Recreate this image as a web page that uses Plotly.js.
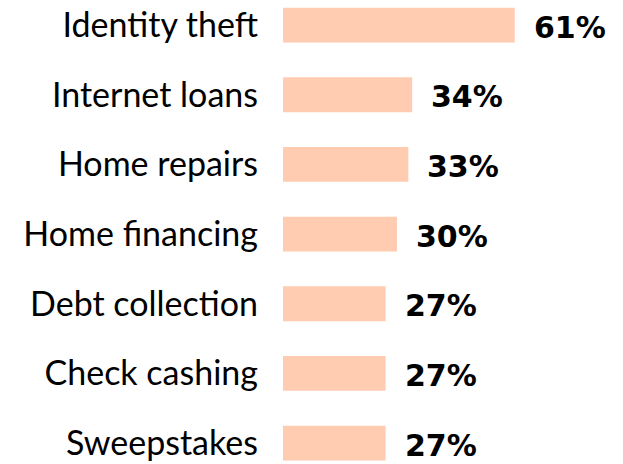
<!DOCTYPE html>
<html>
<head>
<meta charset="utf-8">
<script src="https://cdn.plot.ly/plotly-3.0.1.min.js"></script>
<style>html,body{margin:0;padding:0;background:#fff;}#chart{width:623px;height:464px;}</style>
</head>
<body>
<div id="chart"></div>
<script>
const categories = ["Identity theft", "Internet loans", "Home repairs", "Home financing", "Debt collection", "Check cashing", "Sweepstakes"];
const values = [61, 34, 33, 30, 27, 27, 27];
const valueLabels = ["61%", "34%", "33%", "30%", "27%", "27%", "27%"];

const trace = {
  type: 'bar',
  orientation: 'h',
  x: values,
  y: categories,
  width: 0.5,
  marker: {color: '#FFCCB1'},
  hoverinfo: 'none'
};

const annotations = values.map((v, i) => ({
  x: v, y: categories[i], xref: 'x', yref: 'y',
  text: '<b>' + valueLabels[i] + '</b>',
  showarrow: false, xanchor: 'left', xshift: 17, yshift: -2,
  font: {family: '"DejaVu Sans", sans-serif', size: 30, color: '#000'}
}));

const layout = {
  width: 623, height: 464,
  margin: {l: 283, r: 0, t: 0, b: 0},
  paper_bgcolor: '#fff', plot_bgcolor: '#fff',
  showlegend: false,
  xaxis: {range: [0, 89.5], visible: false, fixedrange: true},
  yaxis: {
    type: 'category', categoryorder: 'array', categoryarray: categories,
    range: [6.30, -0.36],
    showgrid: false, zeroline: false, showline: false, ticks: '',
    ticklabelstandoff: 24,
    tickfont: {family: 'Lato, sans-serif', size: 34, color: '#000'}
  },
  annotations: annotations
};

Plotly.newPlot('chart', [trace], layout, {staticPlot: true, displayModeBar: false});
</script>
</body>
</html>
